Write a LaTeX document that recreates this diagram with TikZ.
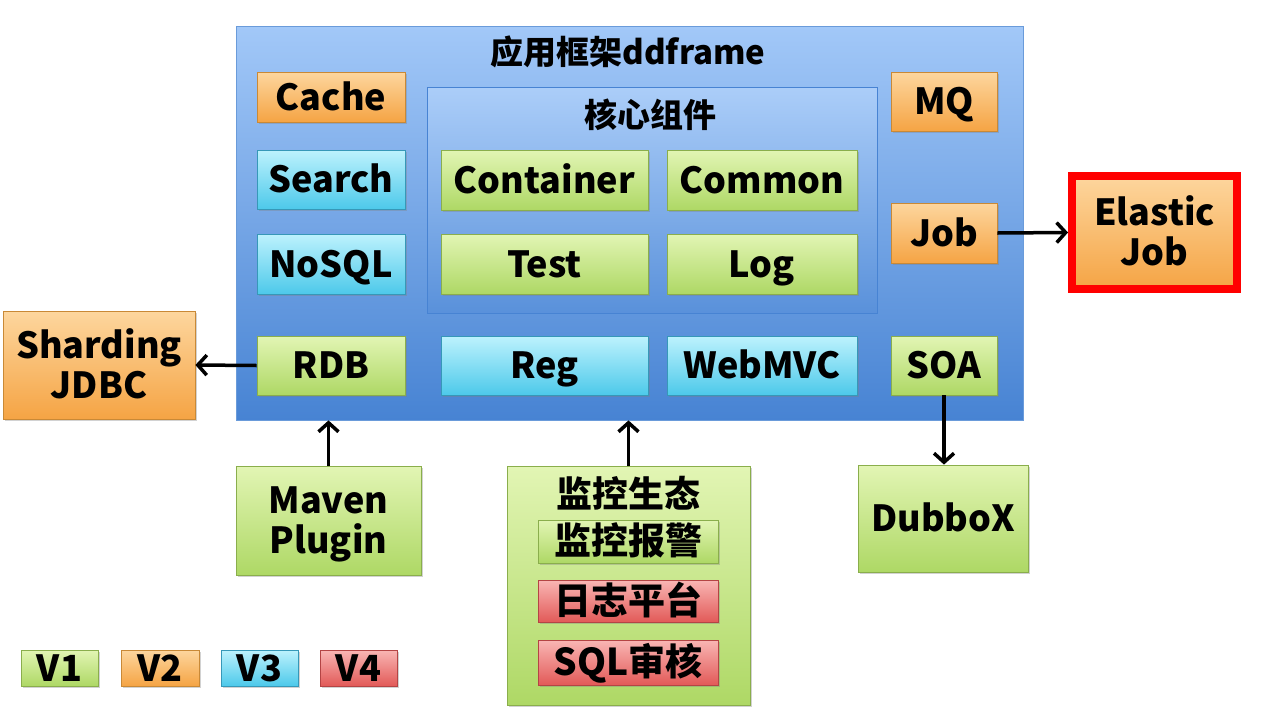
\documentclass[tikz,border=0pt]{standalone}
\usepackage{fontspec}
\setmainfont{Noto Sans CJK SC}
\usepackage{tikz}
\usetikzlibrary{arrows.meta,shadows}

\definecolor{grnT}{HTML}{E2F5B4}
\definecolor{grnB}{HTML}{AED865}
\definecolor{grnD}{HTML}{8AAE4C}
\definecolor{orgT}{HTML}{FDD69E}
\definecolor{orgB}{HTML}{F5A444}
\definecolor{orgD}{HTML}{C98936}
\definecolor{cyaT}{HTML}{BDF2FD}
\definecolor{cyaB}{HTML}{4DC9EA}
\definecolor{cyaD}{HTML}{3698B8}
\definecolor{redT}{HTML}{F9B6B4}
\definecolor{redB}{HTML}{E25A58}
\definecolor{redD}{HTML}{B44444}
\definecolor{bluT}{HTML}{A2C8F8}
\definecolor{bluB}{HTML}{4783D3}
\definecolor{bluD}{HTML}{6A9BDA}

\tikzset{
  box/.style={rectangle, draw=#1D, line width=.8pt, top color=#1T, bottom color=#1B,
    drop shadow={shadow xshift=1.5pt, shadow yshift=-2pt, opacity=.35},
    align=center, inner sep=0pt, text height=28pt, text depth=2pt,
    font=\fontsize{36}{40}\selectfont\bfseries},
  twoline/.style={text height=68pt},
  frame/.style={rectangle, draw=bluD, line width=.8pt, top color=bluT, bottom color=bluB, inner sep=0pt},
  head/.style={font=\fontsize{33}{38}\selectfont\bfseries},
  cjkbox/.style={box=#1, font=\fontsize{37}{40}\selectfont\bfseries},
  link/.style={line width=3.5pt, -{Straight Barb[length=9pt,width=20pt,line width=3.5pt]}}
}

\begin{document}
\begin{tikzpicture}[x=1pt,y=-1pt]
\fill[white] (0,0) rectangle (1265,723);
\useasboundingbox (0,0) rectangle (1265,723);
% application framework
\node[frame, minimum width=787pt, minimum height=394pt] (main) at (629.5,223) {};
\node[head] (title) at (628,52) {应用框架ddframe};
\node[frame, top color=bluT!90!white, bottom color=bluB!80!bluT, draw=bluB, minimum width=450pt, minimum height=226pt] (core) at (652,200) {};
\node[head] (coretitle) at (650,115) {核心组件};
% left column
\node[box=org, minimum width=148pt, minimum height=50pt] (cache) at (331,97) {Cache};
\node[box=cya, minimum width=148pt, minimum height=59pt] (search) at (331,179.5) {Search};
\node[box=cya, minimum width=148pt, minimum height=60pt] (nosql) at (331,264) {NoSQL};
\node[box=grn, minimum width=148pt, minimum height=59pt] (rdb) at (331,365.5) {RDB};
% core components
\node[box=grn, minimum width=207pt, minimum height=60pt] (container) at (544.5,180) {Container};
\node[box=grn, minimum width=190pt, minimum height=60pt] (common) at (762,180) {Common};
\node[box=grn, minimum width=207pt, minimum height=60pt] (test) at (544.5,264) {Test};
\node[box=grn, minimum width=190pt, minimum height=60pt] (log) at (762,264) {Log};
\node[box=cya, minimum width=207pt, minimum height=59pt] (reg) at (544.5,365.5) {Reg};
\node[box=cya, minimum width=190pt, minimum height=59pt] (webmvc) at (762,365.5) {WebMVC};
% right column
\node[box=org, minimum width=106pt, minimum height=59pt] (mq) at (944,101.5) {MQ};
\node[box=org, minimum width=106pt, minimum height=60pt] (job) at (944,233) {Job};
\node[box=grn, minimum width=106pt, minimum height=59pt] (soa) at (944,365.5) {SOA};
% outside
\node[box=org, twoline, draw=red, line width=8pt, minimum width=165pt, minimum height=113pt] (elastic) at (1154.5,232.5) {Elastic\\Job};
\node[box=org, twoline, minimum width=192pt, minimum height=108pt] (sharding) at (99,365) {Sharding\\JDBC};
\node[box=grn, twoline, minimum width=185pt, minimum height=109pt] (maven) at (328.5,520.5) {Maven\\Plugin};
\node[box=grn, minimum width=170pt, minimum height=107pt] (dubbox) at (943,518.5) {DubboX};
% monitoring
\node[box=grn, minimum width=243pt, minimum height=239pt] (monitor) at (628.5,585.5) {};
\node[head, font=\fontsize{36}{40}\selectfont\bfseries] (montitle) at (628,493) {监控生态};
\node[cjkbox=grn, minimum width=180pt, minimum height=43pt] (alarm) at (628,541.5) {监控报警};
\node[cjkbox=red, minimum width=180pt, minimum height=42pt] (logplat) at (628,601) {日志平台};
\node[cjkbox=red, minimum width=180pt, minimum height=45pt] (sqlaudit) at (628,662.5) {SQL审核};
% legend
\node[box=grn, minimum width=77pt, minimum height=36pt] (vone) at (59.5,668) {V1};
\node[box=org, minimum width=78pt, minimum height=36pt] (vtwo) at (160,668) {V2};
\node[box=cya, minimum width=77pt, minimum height=36pt] (vthree) at (259.5,668) {V3};
\node[box=red, minimum width=77pt, minimum height=36pt] (vfour) at (358.5,668) {V4};
% arrows
\draw[link] (rdb.west) -- (sharding.east);
\draw[link] (job.east) -- (elastic.west);
\draw[link] (maven.north) -- (maven.north |- main.south);
\draw[link] (monitor.north) -- (monitor.north |- main.south);
\draw[link] (soa.south) -- (soa.south |- dubbox.north);
\end{tikzpicture}
\end{document}
